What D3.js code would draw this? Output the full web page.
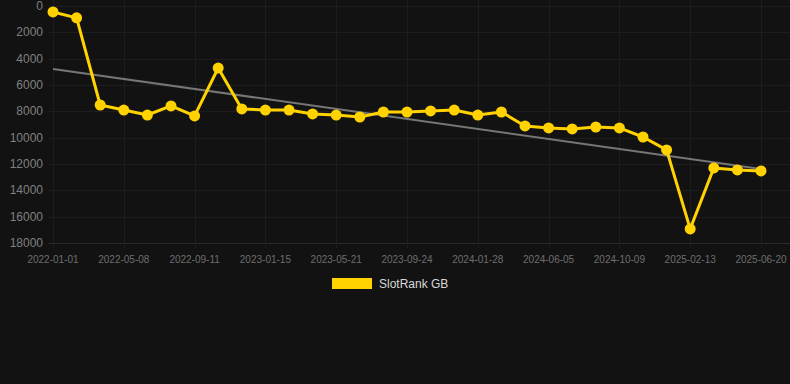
<!DOCTYPE html>
<html>
<head>
<meta charset="utf-8">
<script src="https://cdn.jsdelivr.net/npm/d3@7"></script>
<style>
  html, body { margin: 0; padding: 0; background: #121212; }
  svg { display: block; font-family: "Liberation Sans", Arial, sans-serif; }
</style>
</head>
<body>
<div class="chart"></div>
<script>
/* dates of each rank sample (every third one is labelled on the axis) */
const dates = [
  "2022-01-01", "2022-02-12", "2022-03-26", "2022-05-08", "2022-06-19", "2022-07-31",
  "2022-09-11", "2022-10-23", "2022-12-04", "2023-01-15", "2023-02-26", "2023-04-09",
  "2023-05-21", "2023-07-02", "2023-08-13", "2023-09-24", "2023-11-05", "2023-12-17",
  "2024-01-28", "2024-03-10", "2024-04-21", "2024-06-05", "2024-07-17", "2024-08-28",
  "2024-10-09", "2024-11-20", "2025-01-01", "2025-02-13", "2025-03-27", "2025-05-08",
  "2025-06-20"
];

/* SlotRank GB values */
const ranks = [
  450, 900, 7520, 7900, 8280, 7590, 8350, 4710, 7820, 7900, 7900, 8200,
  8280, 8430, 8050, 8050, 7970, 7900, 8280, 8050, 9110, 9260, 9340, 9190,
  9260, 9950, 10930, 16930, 12300, 12450, 12530
];

/* trend line end values (first and last date) */
const trendValues = [4780, 12380];

/* y axis ticks */
const yTicks = [0, 2000, 4000, 6000, 8000, 10000, 12000, 14000, 16000, 18000];

const seriesName = "SlotRank GB";

/* chart size */
const width = 790;
const height = 384;
const plot = {left: 53, right: 761, top: 6, bottom: 243};

const svg = d3.select('.chart')
  .append('svg')
  .attr("width", width)
  .attr("height", height);

svg.append("rect")
  .attr("width", width)
  .attr("height", height)
  .attr("fill", "#121212");

/* scales */
const xScale = d3.scalePoint()
  .domain(dates)
  .range([plot.left, plot.right]);

const yScale = d3.scaleLinear()
  .domain([0, 18000])
  .range([plot.top, plot.bottom]);

const xTickDates = dates.filter((d, i) => i % 3 === 0);

/* horizontal grid */
svg.append("g")
  .attr("class", "grid y-grid")
  .selectAll("line")
  .data(yTicks)
  .enter()
  .append("line")
  .attr("x1", plot.left - 5)
  .attr("x2", width)
  .attr("y1", d => Math.round(yScale(d)) + 0.5)
  .attr("y2", d => Math.round(yScale(d)) + 0.5)
  .attr("stroke", d => d === 18000 ? "#2a2a2a" : "#1d1d1d")
  .attr("stroke-width", 1);

/* vertical grid */
svg.append("g")
  .attr("class", "grid x-grid")
  .selectAll("line")
  .data(xTickDates)
  .enter()
  .append("line")
  .attr("x1", d => Math.round(xScale(d)) + 0.5)
  .attr("x2", d => Math.round(xScale(d)) + 0.5)
  .attr("y1", 0)
  .attr("y2", plot.bottom + 5)
  .attr("stroke", "#1d1d1d")
  .attr("stroke-width", 1);

/* y tick labels */
svg.append("g")
  .attr("class", "axis y-axis")
  .selectAll("text")
  .data(yTicks)
  .enter()
  .append("text")
  .attr("x", 43)
  .attr("y", d => yScale(d) + 4)
  .attr("text-anchor", "end")
  .attr("font-size", 12)
  .attr("fill", "#808080")
  .text(d => d);

/* x tick labels */
svg.append("g")
  .attr("class", "axis x-axis")
  .selectAll("text")
  .data(xTickDates)
  .enter()
  .append("text")
  .attr("x", d => xScale(d))
  .attr("y", 263)
  .attr("text-anchor", "middle")
  .attr("font-size", 10)
  .attr("fill", "#6e6e6e")
  .text(d => d);

/* trend line */
svg.append("line")
  .attr("class", "trend")
  .attr("x1", xScale(dates[0]))
  .attr("y1", yScale(trendValues[0]))
  .attr("x2", xScale(dates[dates.length - 1]))
  .attr("y2", yScale(trendValues[1]))
  .attr("stroke", "#767676")
  .attr("stroke-width", 2);

/* rank line */
const line = d3.line()
  .x((d, i) => xScale(dates[i]))
  .y(d => yScale(d));

svg.append("path")
  .datum(ranks)
  .attr("class", "line")
  .attr("d", line)
  .attr("fill", "none")
  .attr("stroke", "#ffd200")
  .attr("stroke-width", 3)
  .attr("stroke-linejoin", "round");

/* points */
svg.append("g")
  .selectAll("circle")
  .data(ranks)
  .enter()
  .append("circle")
  .attr("cx", (d, i) => xScale(dates[i]))
  .attr("cy", d => yScale(d))
  .attr("r", 5.5)
  .attr("fill", "#ffd200");

/* legend */
const legend = svg.append("g")
  .attr("class", "legend")
  .attr("transform", "translate(332,278)");

legend.append("rect")
  .attr("width", 40)
  .attr("height", 11)
  .attr("fill", "#ffd200");

legend.append("text")
  .attr("x", 47)
  .attr("y", 10)
  .attr("font-size", 12)
  .attr("fill", "#d8d8d8")
  .text(seriesName);
</script>
</body>
</html>
